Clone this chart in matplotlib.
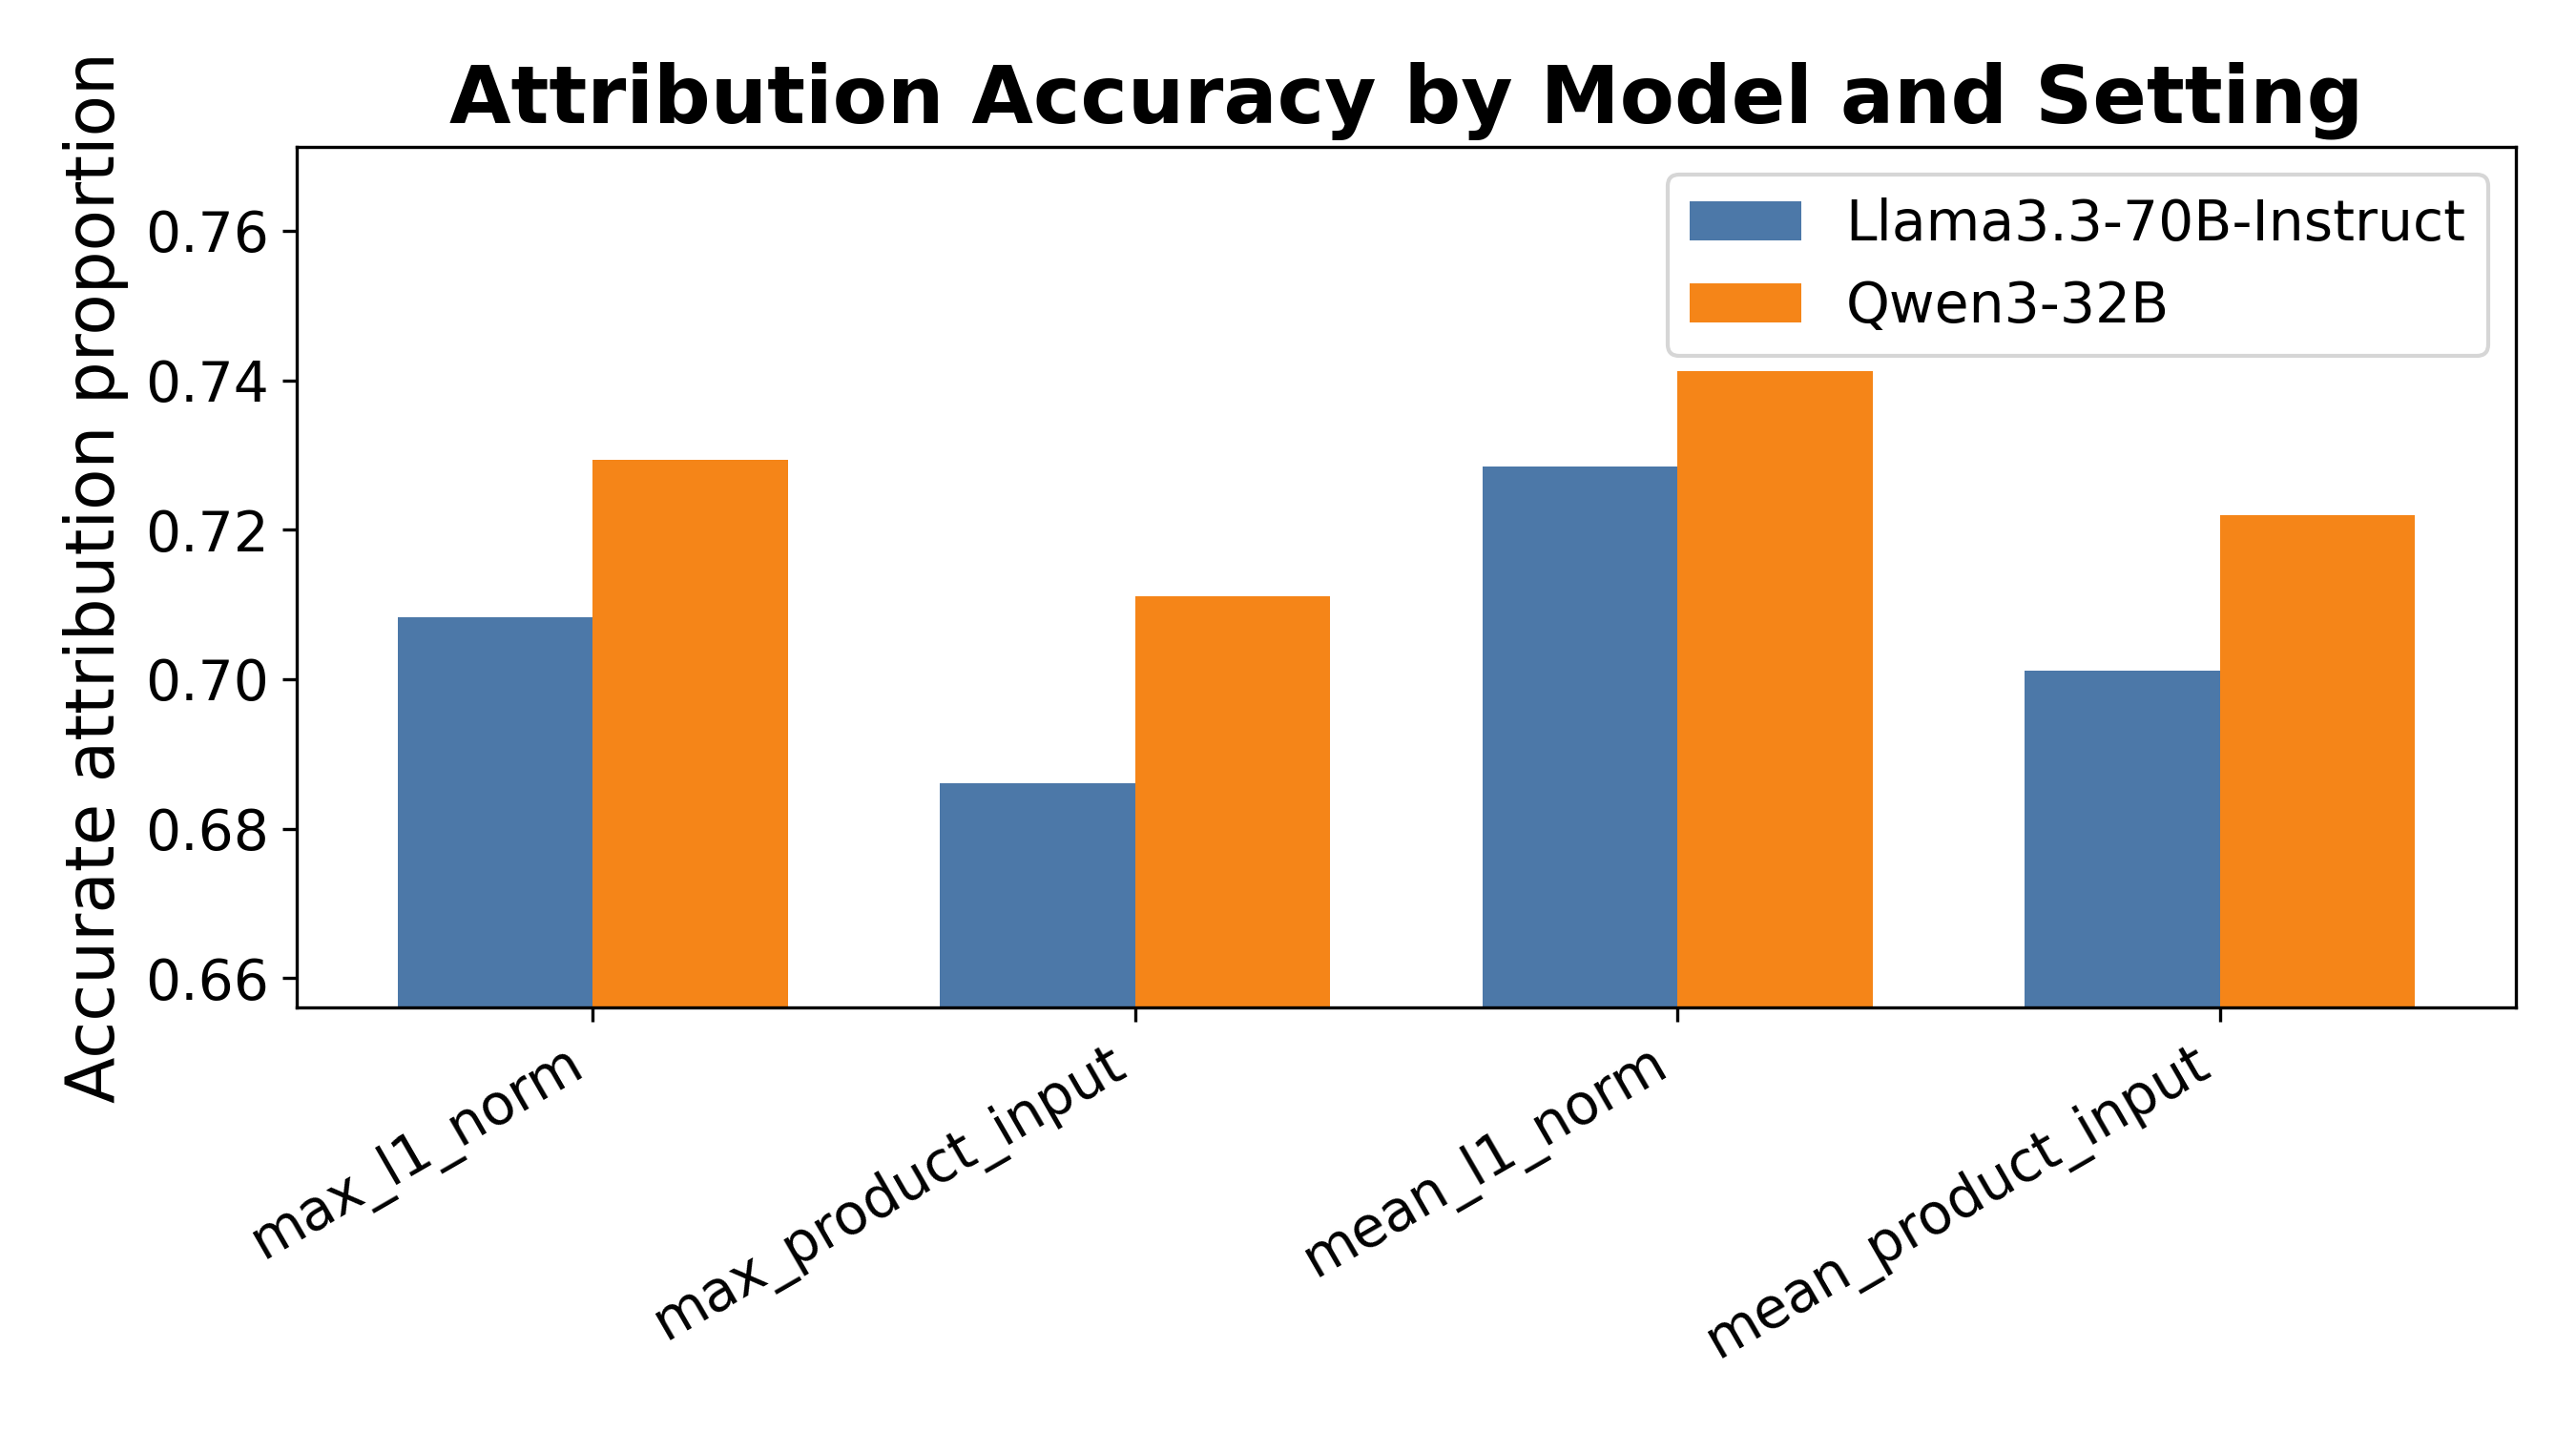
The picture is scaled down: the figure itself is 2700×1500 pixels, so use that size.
import numpy as np
import matplotlib
matplotlib.use("Agg")
import matplotlib.pyplot as plt

settings = ["max_l1_norm", "max_product_input", "mean_l1_norm", "mean_product_input"]
models = ["Llama3.3-70B-Instruct", "Qwen3-32B"]
llama = [0.7083, 0.6861, 0.7285, 0.7011]
qwen = [0.7294, 0.7111, 0.7412, 0.7220]
colors = ["#4C78A8", "#F58518"]

x = np.arange(len(settings)); w = 0.36
fig, ax = plt.subplots(figsize=(9, 5))
ax.bar(x - w/2, llama, w, color=colors[0], label=models[0])
ax.bar(x + w/2, qwen, w, color=colors[1], label=models[1])

allv = llama + qwen
ax.set_ylim(min(allv) - 0.03, max(allv) + 0.03)
ax.set_xticks(x)
ax.set_xticklabels(settings, rotation=30, ha="right", fontsize=14)
ax.tick_params(axis="y", labelsize=14)
ax.set_ylabel("Accurate attribution proportion", fontsize=17)
ax.set_title("Attribution Accuracy by Model and Setting", fontsize=20, fontweight="bold")
ax.legend(fontsize=14, loc="upper right")

fig.subplots_adjust(left=0.1152, right=0.9767, top=0.8973, bottom=0.296)
fig.savefig("out.png", dpi=300)
